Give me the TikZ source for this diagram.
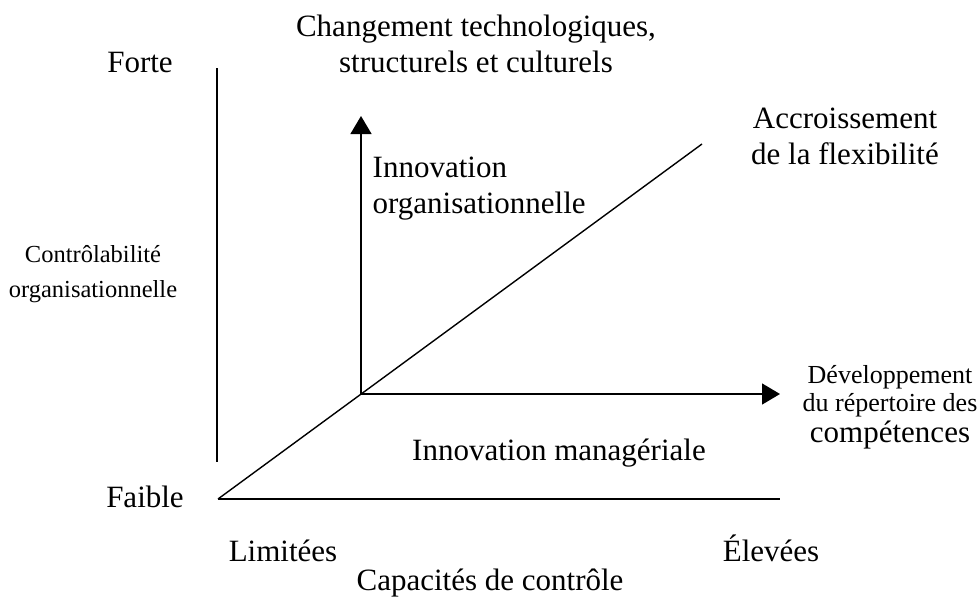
\documentclass[tikz,border=0pt]{standalone}
\usepackage{fontspec}
\setmainfont{Liberation Serif}
\usetikzlibrary{arrows.meta}

\newcommand{\txtgrand}{\fontsize{31}{36}\selectfont}
\newcommand{\txtmoyen}{\fontsize{26}{28}\selectfont}
\newcommand{\txtpetit}{\fontsize{24.5}{35}\selectfont}

\begin{document}
\begin{tikzpicture}[x=1pt,y=-1pt,line width=1.4pt]
  \useasboundingbox (0,0) rectangle (980,600);
  \tikzset{lbl/.style={inner sep=0pt,align=center,font=\txtgrand},
           fleche/.style={-{Triangle[length=18pt,width=21pt]}}}

  \coordinate (haut) at (217,68);
  \coordinate (bas) at (217,462);
  \coordinate (zero) at (218,499);
  \coordinate (fin) at (780,499);
  \coordinate (diag) at (702,144);
  \coordinate (O) at (361,394);
  \coordinate (nord) at (361,116);
  \coordinate (est) at (780,394);

  % axes
  \path[draw] (haut) -- (bas);
  \path[draw] (zero) -- (fin);
  \path[draw] (zero) -- (diag);
  \path[draw, fleche] (O) -- (nord);
  \path[draw, fleche] (O) -- (est);

  \node[lbl] (chg) at (476, 44) {Changement technologiques,\\structurels et culturels};
  \node[lbl] (forte) at (140, 62) {Forte};
  \node[lbl] (faible) at (145, 497) {Faible};
  \node[lbl] (accr) at (845, 136) {Accroissement\\de la flexibilit\'e};
  \node[lbl, anchor=west, align=left] (innorg) at (372, 189) {Innovation\\organisationnelle};
  \node[lbl, font=\txtpetit] (ctrl) at (93, 274) {Contr\^olabilit\'e\\organisationnelle};
  \node[lbl, font=\txtmoyen] (dev) at (890, 407) {D\'eveloppement\\du r\'epertoire des\\[3pt]{\txtgrand comp\'etences}};
  \node[lbl] (innman) at (559, 453) {Innovation manag\'eriale};
  \node[lbl, anchor=base] (lim) at (283, 561) {Limit\'ees};
  \node[lbl, anchor=base] (elev) at (771, 561) {\'Elev\'ees};
  \node[lbl] (capa) at (490, 583) {Capacit\'es de contr\^ole};
\end{tikzpicture}
\end{document}
